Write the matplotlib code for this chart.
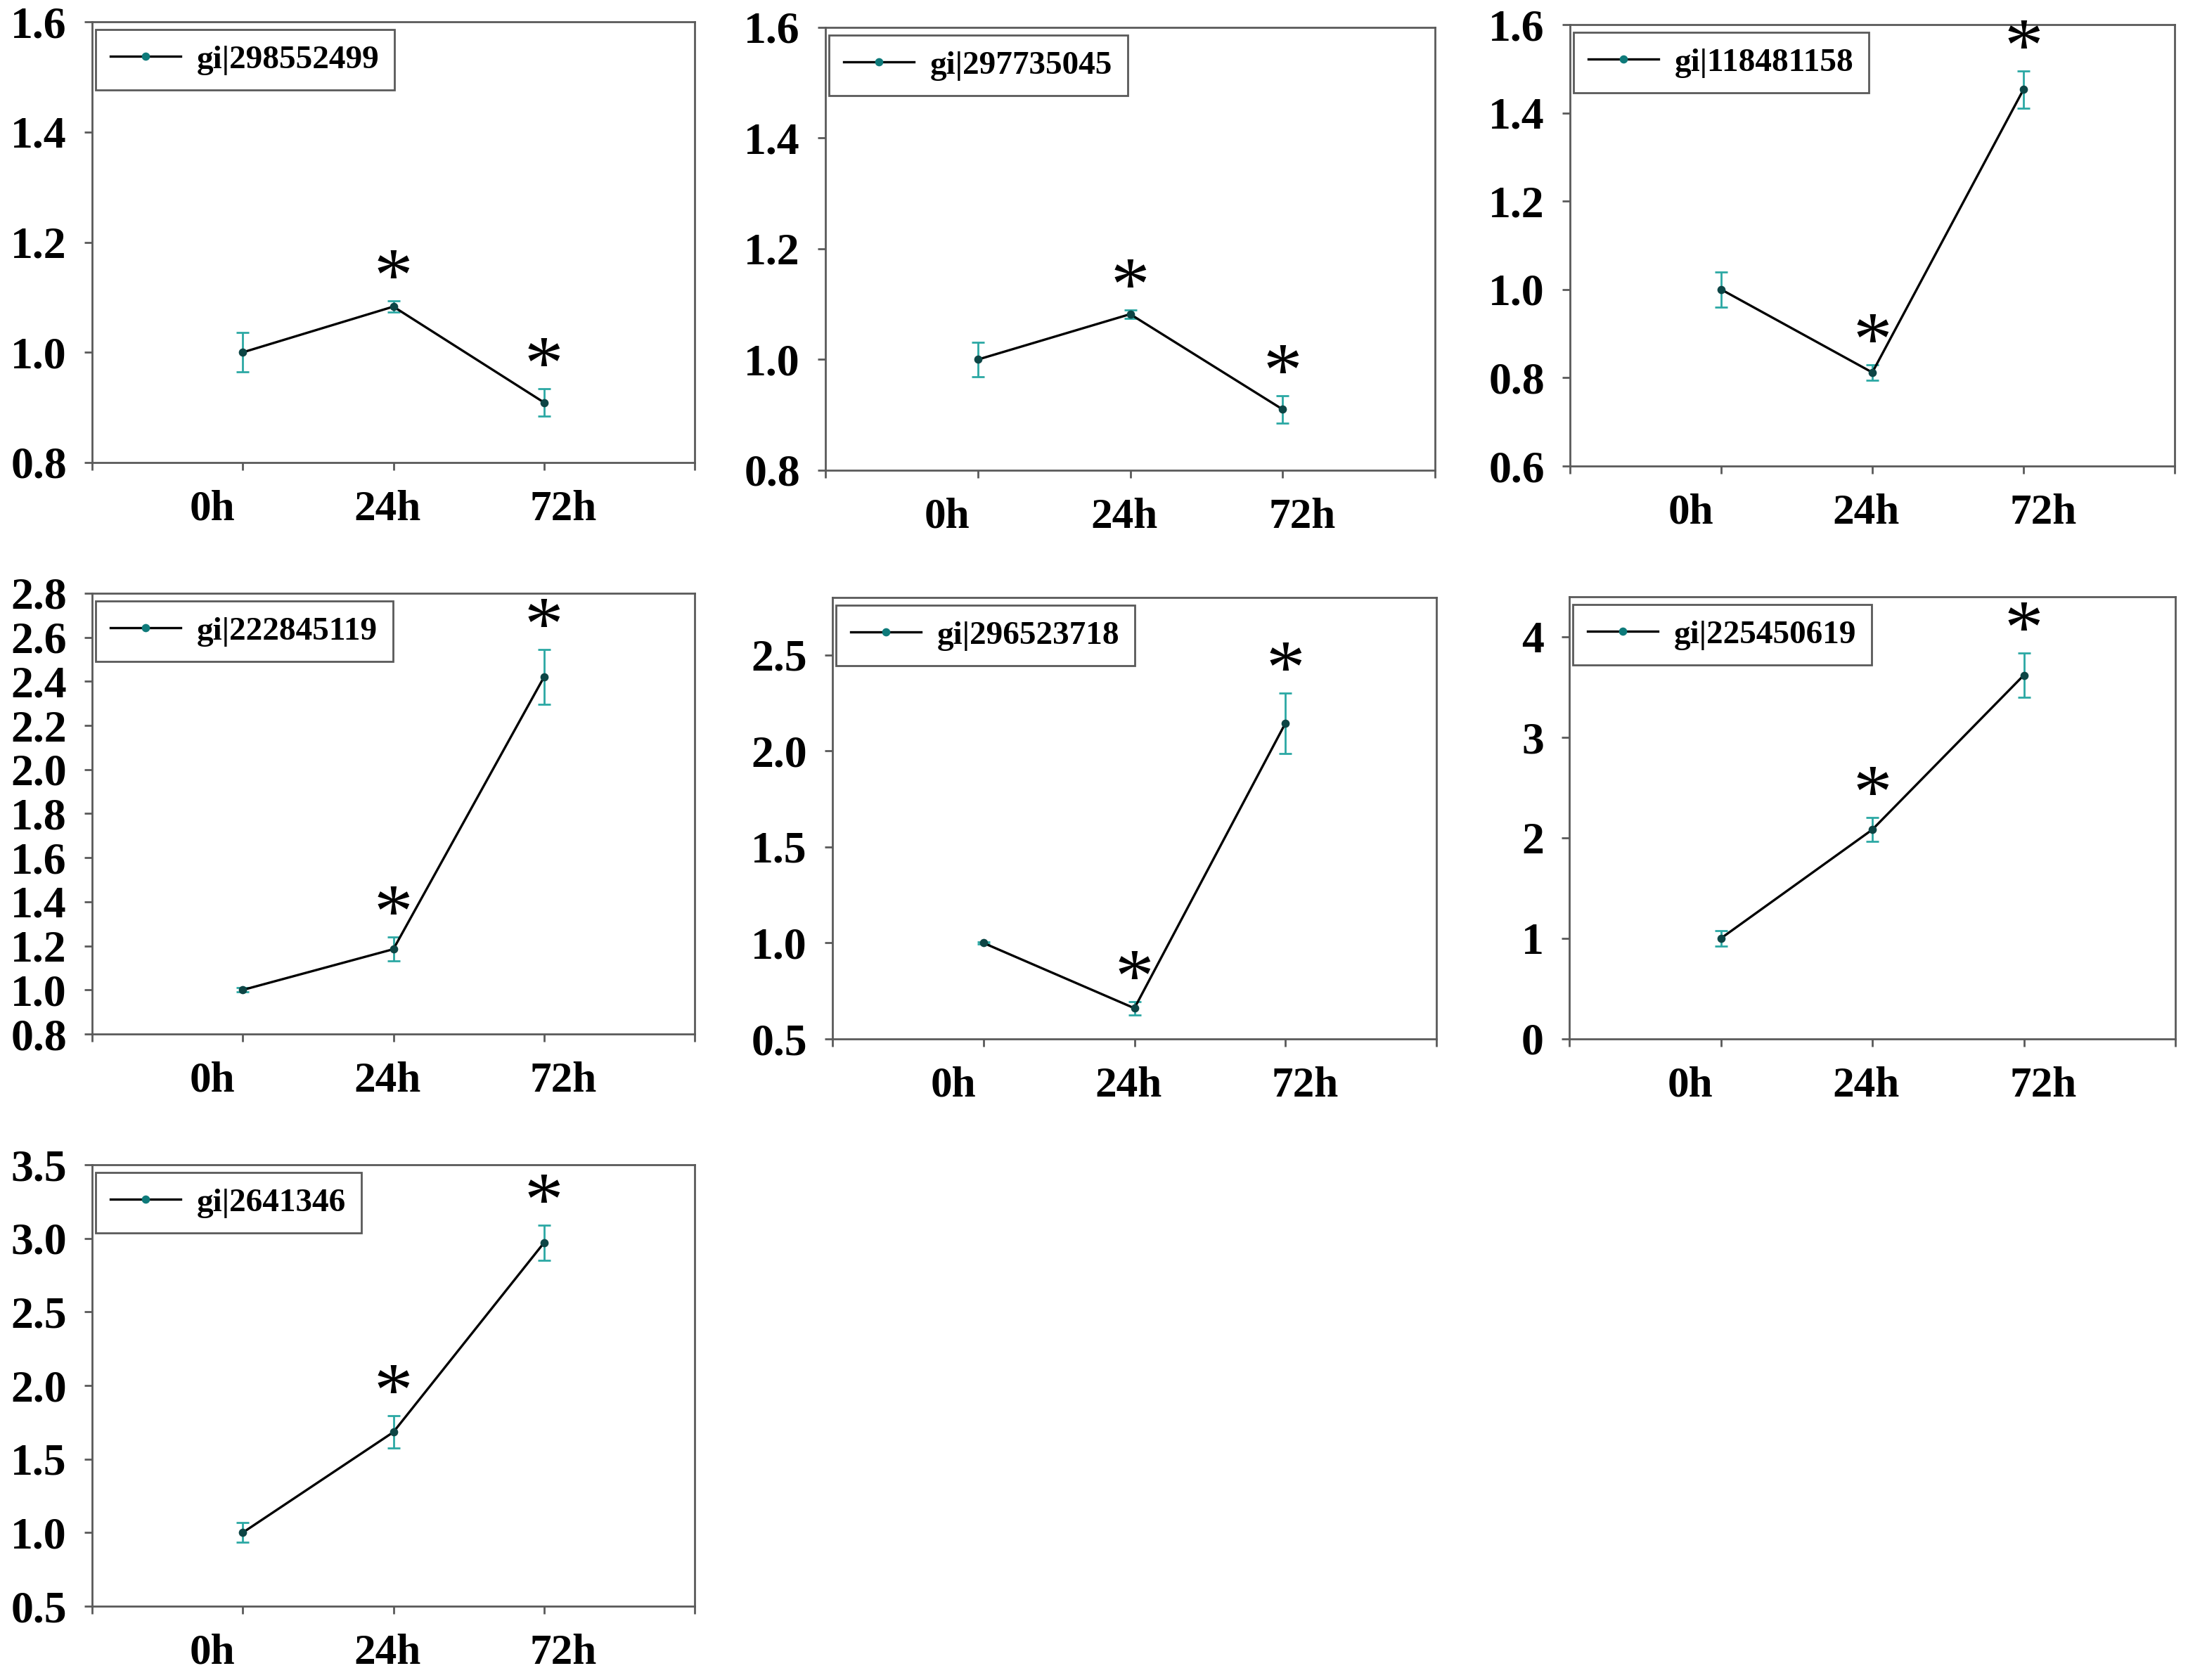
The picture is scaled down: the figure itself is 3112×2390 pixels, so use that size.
import matplotlib
matplotlib.use("Agg")
import matplotlib.pyplot as plt

plt.rcParams["font.family"] = ["Liberation Serif", "DejaVu Serif"]

TEAL = "#2BA8A4"
DOT = "#0D4545"
SPINE = "#5A5A5A"

times = ["0h", "24h", "72h"]
x_pos = [1, 2, 3]

genes = ["gi|298552499", "gi|297735045", "gi|118481158",
         "gi|222845119", "gi|296523718", "gi|225450619",
         "gi|2641346"]

means = [
    [1.00, 1.083, 0.909],
    [1.00, 1.082, 0.910],
    [1.00, 0.812, 1.453],
    [1.00, 1.185, 2.420],
    [1.00, 0.660, 2.145],
    [1.00, 2.083, 3.620],
    [1.00, 1.683, 2.970],
]
errors = [
    [0.036, 0.010, 0.025],
    [0.031, 0.008, 0.025],
    [0.040, 0.017, 0.042],
    [0.010, 0.054, 0.125],
    [0.005, 0.035, 0.157],
    [0.080, 0.120, 0.220],
    [0.067, 0.110, 0.120],
]
# which time points carry a significance star
signif = [
    [False, True, True],
    [False, True, True],
    [False, True, True],
    [False, True, True],
    [False, True, True],
    [False, True, True],
    [False, True, True],
]

y_limits = [(0.8, 1.6), (0.8, 1.6), (0.6, 1.6), (0.8, 2.8),
            (0.5, 2.8), (0, 4.4), (0.5, 3.5)]
y_ticks = [
    [0.8, 1.0, 1.2, 1.4, 1.6],
    [0.8, 1.0, 1.2, 1.4, 1.6],
    [0.6, 0.8, 1.0, 1.2, 1.4, 1.6],
    [0.8, 1.0, 1.2, 1.4, 1.6, 1.8, 2.0, 2.2, 2.4, 2.6, 2.8],
    [0.5, 1.0, 1.5, 2.0, 2.5],
    [0, 1, 2, 3, 4],
    [0.5, 1.0, 1.5, 2.0, 2.5, 3.0, 3.5],
]
y_fmt = ["{:.1f}", "{:.1f}", "{:.1f}", "{:.1f}", "{:.1f}", "{:.0f}", "{:.1f}"]

W, H = 3112, 2390
# axes boxes in pixels: left, right, top, bottom
boxes = [
    (131, 988, 31, 658), (1174, 2041, 39, 669), (2233, 3093, 35, 663),
    (131, 988, 844, 1471), (1184, 2043, 850, 1478), (2232, 3094, 849, 1478),
    (131, 988, 1657, 2285),
]
label_x = [0.80, 1.96, 3.13]

fig = plt.figure(figsize=(W / 200, H / 200), dpi=200)

for i, gene in enumerate(genes):
    l, r, t, b = boxes[i]
    ax = fig.add_axes([l / W, 1 - b / H, (r - l) / W, (b - t) / H])

    ax.errorbar(x_pos, means[i], yerr=errors[i], fmt="none", ecolor=TEAL,
                elinewidth=1.0, capsize=3.4, capthick=1.0, zorder=2)
    ax.plot(x_pos, means[i], color="black", lw=1.2, marker="o", ms=3.2,
            mfc=DOT, mec=DOT, label=gene, zorder=3)

    for xp, m, e, s in zip(x_pos, means[i], errors[i], signif[i]):
        if s:
            ax.annotate("*", xy=(xp, m + e), xytext=(0, 0), textcoords="offset points",
                        ha="center", va="baseline", fontsize=40, color="black")

    ax.set_xlim(0, 4)
    ax.set_ylim(*y_limits[i])
    ax.set_xticks([0, 1, 2, 3, 4])
    ax.set_xticklabels([])
    ax.set_xticks(label_x, minor=True)
    ax.set_xticklabels(times, minor=True, fontsize=22, fontweight="bold")
    ax.tick_params(axis="x", which="minor", length=0, pad=14)
    ax.tick_params(axis="x", which="major", length=4, width=1.0, color=SPINE,
                   direction="out")
    ax.set_yticks(y_ticks[i])
    ax.set_yticklabels([y_fmt[i].format(v) for v in y_ticks[i]],
                       fontsize=23, fontweight="bold")
    ax.tick_params(axis="y", length=4, width=1.0, color=SPINE, direction="out", pad=9)

    for sp in ax.spines.values():
        sp.set_color(SPINE)
        sp.set_linewidth(1.0)

    leg = ax.legend(loc="upper left", bbox_to_anchor=(0.006, 0.982), borderaxespad=0,
                    fancybox=False, edgecolor=SPINE, framealpha=1,
                    handlelength=2.1, handletextpad=0.5, borderpad=0.45,
                    prop={"family": "Liberation Serif", "weight": "bold", "size": 17})
    leg.get_frame().set_linewidth(1.0)
    for h in leg.legend_handles:
        h.set_markerfacecolor("#0E7A7A")
        h.set_markeredgecolor("#0E7A7A")

fig.savefig("out.png", dpi=200, facecolor="white")
